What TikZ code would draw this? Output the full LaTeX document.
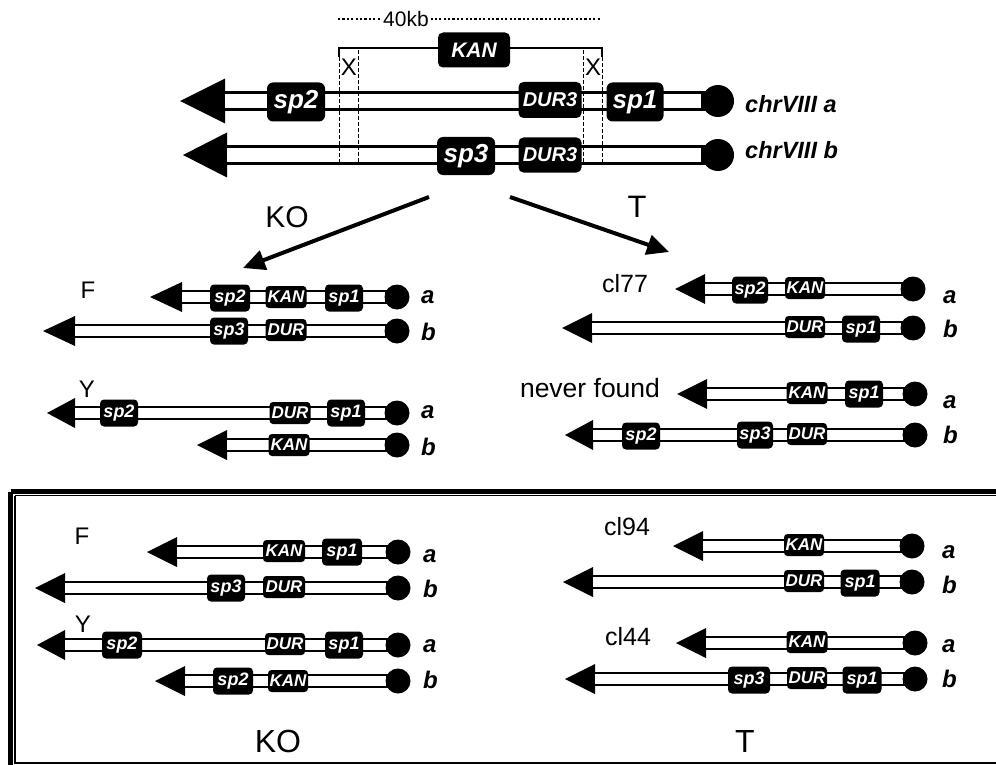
\documentclass[tikz,border=0pt]{standalone}
\usepackage{fontspec}
\setmainfont{Liberation Sans}
\usetikzlibrary{arrows.meta}
\newcommand\bigchr[4]{%
  \fill (#1,#4) -- (#2,#4-22.5) -- (#2,#4+22.5) -- cycle;
  \fill (#2-1,#4-10) rectangle (#3,#4+10);
  \fill[white] (#2,#4-7) rectangle (#3-17,#4+7);
  \fill (#3,#4) circle[radius=16pt];
}
\newcommand\smallchr[4]{%
  \fill (#1,#4) -- (#2,#4-15) -- (#2,#4+15) -- cycle;
  \fill (#2-1,#4-7) rectangle (#3,#4+7);
  \fill[white] (#2,#4-4.8) rectangle (#3-12.5,#4+4.8);
  \fill (#3,#4) circle[radius=12.5pt];
}
\begin{document}
\begin{tikzpicture}[x=1pt,y=-1pt,
  gbox/.style={fill=black,text=white,inner sep=0pt,font=\bfseries\itshape},
  gsp/.style={gbox,rounded corners=6pt,minimum width=58pt,minimum height=39pt,font=\fontsize{26}{26}\selectfont\bfseries\itshape},
  gdur/.style={gbox,rounded corners=5pt,minimum width=63pt,minimum height=36pt,font=\fontsize{20}{20}\selectfont\bfseries\itshape},
  gkan/.style={gbox,rounded corners=5pt,minimum width=72pt,minimum height=35pt,font=\fontsize{21}{21}\selectfont\bfseries\itshape},
  ssp/.style={gbox,rounded corners=4pt,minimum width=38pt,minimum height=27pt,font=\fontsize{18}{18}\selectfont\bfseries\itshape},
  sge/.style={gbox,rounded corners=3.5pt,minimum width=41pt,minimum height=22pt,font=\fontsize{17}{17}\selectfont\bfseries\itshape},
  ab/.style={anchor=base west,inner sep=0pt,font=\fontsize{24}{24}\selectfont\bfseries\itshape},
  chl/.style={anchor=base west,inner sep=0pt,font=\fontsize{23.5}{23.5}\selectfont\bfseries\itshape},
  lab/.style={anchor=base,inner sep=0pt,font=\fontsize{24}{24}\selectfont},
  cll/.style={anchor=base,inner sep=0pt,font=\fontsize{25}{25}\selectfont},
  big/.style={anchor=base,inner sep=0pt,font=\fontsize{32}{32}\selectfont},
  tarrow/.style={line width=4pt,-{Triangle[length=22pt,width=20pt]}},
  dsh/.style={line width=1pt,dash pattern=on 4pt off 2pt}
]
\useasboundingbox (0,0) rectangle (996,765);
\fill[white] (0,0) rectangle (996,765);

% frame
\draw[line width=5pt] (10.5,491.5) -- (1010,491.5);
\draw[line width=5pt] (10.5,491.5) -- (10.5,780);
\draw[line width=1.3pt] (15,495.7) -- (1010,495.7);
\draw[line width=1.3pt] (15,495.7) -- (15,763) -- (1010,763);

% ===== top =====
\draw[line width=2.2pt,dash pattern=on 2.2pt off 2.2pt] (338,19) -- (600,19);
\node[fill=white,inner sep=2pt,font=\fontsize{21}{21}\selectfont] (kb) at (406,19) {40kb};

\bigchr{180}{225}{718}{101}
\bigchr{183}{227}{718}{155}

\draw[line width=1.5pt] (339,57) -- (339,48) -- (602,48) -- (602,57);
\draw[dsh] (339,57) -- (339,163);
\draw[dsh] (358,50) -- (358,163);
\draw[dsh] (583,50) -- (583,163);
\draw[dsh] (602,57) -- (602,163);
\node[anchor=base,inner sep=0pt,font=\fontsize{24}{24}\selectfont] (x1) at (349,76) {X};
\node[anchor=base,inner sep=0pt,font=\fontsize{24}{24}\selectfont] (x2) at (593,76) {X};

\node[gkan] (kan0) at (474,50) {KAN};
\node[gsp] (a0sp2) at (296,102) {sp2};
\node[gdur] (a0dur) at (550,100) {DUR3};
\node[gsp,minimum width=57pt] (a0sp1) at (635,102) {sp1};
\node[gsp,minimum height=38pt] (b0sp3) at (466,156) {sp3};
\node[gdur,minimum height=35pt] (b0dur) at (550,155) {DUR3};
\node[chl] (chra) at (745,113) {chrVIII a};
\node[chl] (chrb) at (745,159) {chrVIII b};

\coordinate (koS) at (429,197);
\coordinate (koE) at (243,268);
\coordinate (tS) at (510,197);
\coordinate (tE) at (669,252);
\draw[tarrow] (koS) -- (koE);
\draw[tarrow] (tS) -- (tE);
\node[big,font=\fontsize{30}{30}\selectfont] (ko1) at (287,227) {KO};
\node[big,font=\fontsize{31}{31}\selectfont] (t1) at (637,217) {T};

% ===== middle left =====
\node[lab] (f1) at (88,298) {F};
\smallchr{150}{182}{397}{297}
\node[ssp,minimum width=40pt] (m1) at (230,298) {sp2};
\node[sge] (m2) at (286,297) {KAN};
\node[ssp] (m3) at (344,298) {sp1};
\node[ab] (m4) at (421,303) {a};
\smallchr{43}{75}{397}{331}
\node[ssp] (m5) at (229,331) {sp3};
\node[sge] (m6) at (286,330) {DUR};
\node[ab] (m7) at (421,340) {b};

\node[lab] (y1) at (87,397) {Y};
\smallchr{47}{75}{397}{413}
\node[ssp] (m8) at (119,413) {sp2};
\node[sge] (m9) at (290,413) {DUR};
\node[ssp] (m10) at (346,413) {sp1};
\node[ab] (m11) at (421,418) {a};
\smallchr{197}{227}{397}{445}
\node[sge] (m12) at (289,445) {KAN};
\node[ab] (m13) at (421,455) {b};

% ===== middle right =====
\node[cll] (c77) at (625,292) {cl77};
\smallchr{675}{705}{913}{289}
\node[ssp,minimum width=36pt] (r1) at (750,290) {sp2};
\node[sge,minimum width=40pt] (r2) at (805,288) {KAN};
\node[ab] (r3) at (943,303) {a};
\smallchr{562}{592}{913}{328}
\node[sge,minimum width=40pt] (r4) at (805,327) {DUR};
\node[ssp] (r5) at (861,329) {sp1};
\node[ab] (r6) at (943,337) {b};

\node[cll,font=\fontsize{26.5}{26.5}\selectfont] (nf) at (590,397) {never found};
\smallchr{677}{707}{915}{394}
\node[sge] (r7) at (807,393) {KAN};
\node[ssp] (r8) at (864,394) {sp1};
\node[ab] (r9) at (943,408) {a};
\smallchr{565}{593}{915}{435}
\node[ssp] (r10) at (641,436) {sp2};
\node[ssp,minimum width=36pt] (r11) at (755,435) {sp3};
\node[sge,minimum width=40pt] (r12) at (807,434) {DUR};
\node[ab] (r13) at (943,443) {b};

% ===== bottom left =====
\node[lab] (f2) at (82,544) {F};
\smallchr{147}{177}{398}{552}
\node[sge,minimum width=42pt] (l1) at (284,551) {KAN};
\node[ssp,minimum width=40pt] (l2) at (342,552) {sp1};
\node[ab] (l3) at (423,562) {a};
\smallchr{35}{65}{398}{588}
\node[ssp] (l4) at (226,588) {sp3};
\node[sge,minimum width=42pt] (l5) at (284,587) {DUR};
\node[ab] (l6) at (423,597) {b};

\node[lab] (y2) at (83,632) {Y};
\smallchr{37}{65}{398}{645}
\node[ssp,minimum width=40pt] (l7) at (122,645) {sp2};
\node[sge,minimum width=40pt] (l8) at (285,644) {DUR};
\node[ssp] (l9) at (344,645) {sp1};
\node[ab] (l10) at (423,652) {a};
\smallchr{155}{185}{398}{681}
\node[ssp,minimum width=40pt] (l11) at (233,681) {sp2};
\node[sge,minimum width=40pt] (l12) at (288,681) {KAN};
\node[ab] (l13) at (423,688) {b};
\node[big] (ko2) at (278,752) {KO};

% ===== bottom right =====
\node[cll] (c94) at (627,535) {cl94};
\smallchr{673}{703}{912}{546}
\node[sge,minimum width=40pt] (q1) at (804,545) {KAN};
\node[ab] (q2) at (942,558) {a};
\smallchr{563}{593}{912}{582}
\node[sge,minimum width=40pt] (q3) at (804,581) {DUR};
\node[ssp,minimum width=39pt] (q4) at (860,583) {sp1};
\node[ab] (q5) at (942,593) {b};

\node[cll] (c44) at (628,645) {cl44};
\smallchr{676}{706}{915}{643}
\node[sge] (q6) at (807,642) {KAN};
\node[ab] (q7) at (942,652) {a};
\smallchr{565}{595}{915}{679}
\node[ssp,minimum width=42pt] (q8) at (749,680) {sp3};
\node[sge,minimum width=40pt] (q9) at (807,678) {DUR};
\node[ssp,minimum width=39pt] (q10) at (862,680) {sp1};
\node[ab] (q11) at (942,687) {b};
\node[big] (t2) at (745,752) {T};
\end{tikzpicture}
\end{document}
